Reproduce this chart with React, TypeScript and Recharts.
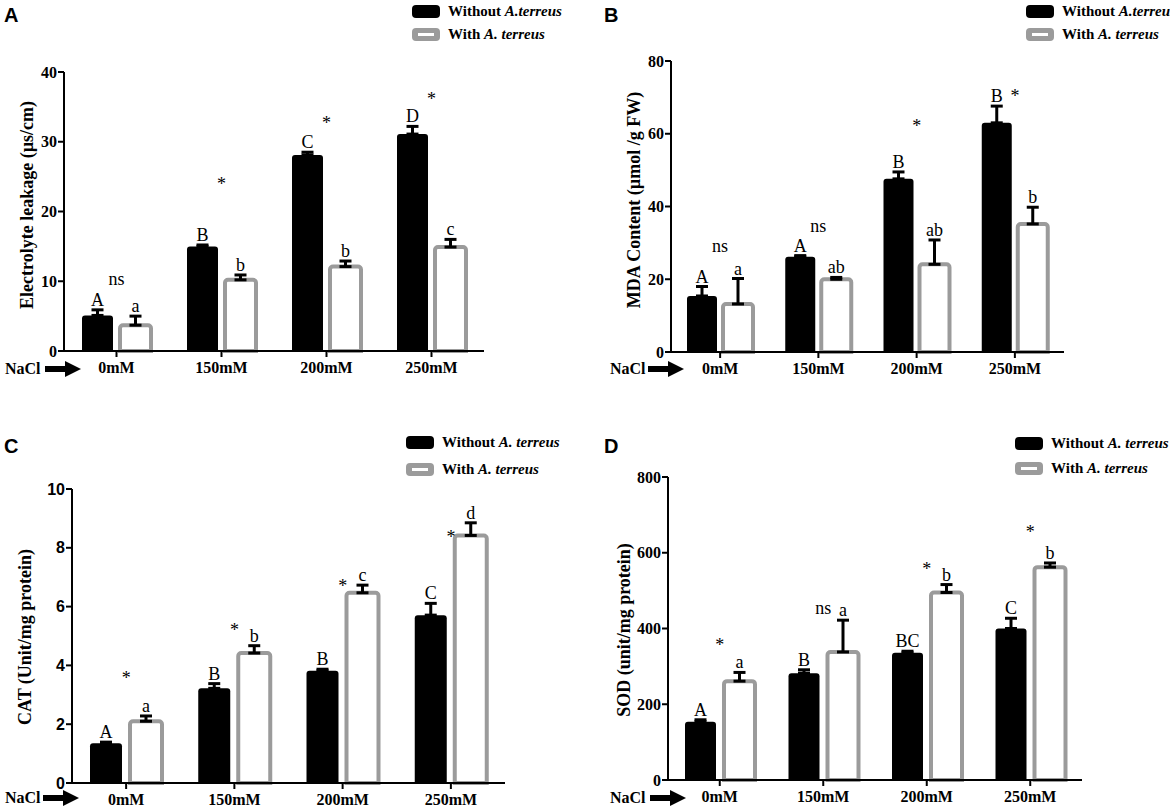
import { BarChart, Bar, XAxis, YAxis, ErrorBar, ReferenceDot } from 'recharts';

const serif = '"Liberation Serif", "Times New Roman", serif';
const sans = '"Liberation Sans", Arial, sans-serif';

const categories = ['0mM', '150mM', '200mM', '250mM'];

// A: electrolyte leakage
const elWithout = [5.1, 15.0, 28.1, 31.1];
const elWithoutErr = [0.8, 0.2, 0.4, 1.1];
const elWith = [3.7, 10.2, 12.1, 14.9];
const elWithErr = [1.3, 0.7, 0.8, 1.1];
const elLettersWithout = ['A', 'B', 'C', 'D'];
const elLettersWith = ['a', 'b', 'b', 'c'];
const elSig = ['ns', '*', '*', '*'];
const elSigY = [10.1, 24.4, 33.1, 36.6];
const elTicks = [0, 10, 20, 30, 40];

// B: MDA content
const mdaWithout = [15.4, 26.2, 47.6, 63.0];
const mdaWithoutErr = [2.6, 0.3, 1.9, 4.6];
const mdaWith = [13.2, 20.0, 24.1, 35.2];
const mdaWithErr = [7.0, 0.5, 6.7, 4.6];
const mdaLettersWithout = ['A', 'A', 'B', 'B'];
const mdaLettersWith = ['a', 'ab', 'ab', 'b'];
const mdaSig = ['ns', 'ns', '*', '*'];
const mdaSigY = [28.7, 34.2, 62.9, 71.2];
const mdaTicks = [0, 20, 40, 60, 80];

// C: CAT
const catWithout = [1.35, 3.22, 3.82, 5.71];
const catWithoutErr = [0.04, 0.16, 0.05, 0.4];
const catWith = [2.1, 4.42, 6.47, 8.42];
const catWithErr = [0.18, 0.25, 0.26, 0.43];
const catLettersWithout = ['A', 'B', 'B', 'C'];
const catLettersWith = ['a', 'b', 'c', 'd'];
const catSig = ['*', '*', '*', '*'];
const catSigY = [3.67, 5.3, 6.8, 8.47];
const catTicks = [0, 2, 4, 6, 8, 10];

// D: SOD
const sodWithout = [154, 282, 336, 400];
const sodWithoutErr = [5, 9, 4, 27];
const sodWith = [261, 338, 495, 562];
const sodWithErr = [23, 84, 21, 11];
const sodLettersWithout = ['A', 'B', 'BC', 'C'];
const sodLettersWith = ['a', 'a', 'b', 'b'];
const sodSig = ['*', 'ns', '*', '*'];
const sodSigY = [364, 449, 565, 662];
const sodTicks = [0, 200, 400, 600, 800];

const legendWithoutAB = ['Without ', 'A.terreus'];
const legendWithoutCD = ['Without ', 'A. terreus'];
const legendWith = ['With ', 'A. terreus'];

// letter above each bar, sitting on top of its error whisker
const letterLabel = (letters: string[], errs: number[], vals: number[]) => (props: any) => {
  const { x, y, width, height, value } = props;
  let i = props.index;
  if (i === undefined) i = vals.indexOf(value);
  if (i < 0 || i === undefined) return null;
  const px = height / vals[i];
  const top = y - errs[i] * px;
  return (
    <text x={x + width / 2} y={top - 4} textAnchor="middle" fontFamily={serif} fontSize={18} fill="#000">
      {letters[i]}
    </text>
  );
};

type PanelProps = {
  plot: { left: number; top: number; right: number; bottom: number };
  ticks: number[];
  tickFont: string;
  without: number[];
  withoutErr: number[];
  withA: number[];
  withErr: number[];
  lettersWithout: string[];
  lettersWith: string[];
  sig: string[];
  sigY: number[];
  barSize: number;
  barGap: number;
};

function Panel(p: PanelProps) {
  const { plot } = p;
  const YW = 60;
  const XH = 40;
  const width = plot.right - plot.left + YW + 20;
  const height = plot.bottom - plot.top + 30 + XH + 10;
  const rows = categories.map((c, i) => ({
    name: c,
    without: p.without[i],
    withA: p.withA[i],
    eWithout: [0, p.withoutErr[i]],
    eWith: [0, p.withErr[i]],
  }));
  const domain = [p.ticks[0], p.ticks[p.ticks.length - 1]];
  return (
    <div style={{ position: 'absolute', left: plot.left - YW, top: plot.top - 30 }}>
      <BarChart width={width} height={height} data={rows} barGap={p.barGap}
        margin={{ top: 30, right: 20, bottom: 10, left: 0 }}>
        <XAxis dataKey="name" height={XH} interval={0}
          axisLine={{ stroke: '#000', strokeWidth: 2 }}
          tickLine={{ stroke: '#000', strokeWidth: 2 }}
          tickSize={6} tickMargin={5}
          tick={{ fill: '#000', fontFamily: serif, fontWeight: 700, fontSize: 16 }} />
        <YAxis width={YW} domain={domain} ticks={p.ticks} interval={0}
          axisLine={{ stroke: '#000', strokeWidth: 2 }}
          tickLine={{ stroke: '#000', strokeWidth: 2 }}
          tickSize={6} tickMargin={1}
          tick={{ fill: '#000', fontFamily: p.tickFont, fontWeight: 700, fontSize: 16 }} />
        <Bar dataKey="without" fill="#000" barSize={p.barSize} radius={[3, 3, 0, 0]}
          isAnimationActive={false}
          label={letterLabel(p.lettersWithout, p.withoutErr, p.without)}>
          <ErrorBar dataKey="eWithout" direction="y" width={6} strokeWidth={3} stroke="#000" />
        </Bar>
        <Bar dataKey="withA" fill="#fff" stroke="#9b9b9b" strokeWidth={4} barSize={p.barSize}
          radius={[3, 3, 0, 0]} isAnimationActive={false}
          label={letterLabel(p.lettersWith, p.withErr, p.withA)}>
          <ErrorBar dataKey="eWith" direction="y" width={6} strokeWidth={3} stroke="#000" />
        </Bar>
        {categories.map((c, i) => (
          <ReferenceDot key={c} x={c} y={p.sigY[i]} r={0} ifOverflow="visible"
            shape={(s: any) => (
              <text x={s.cx} y={s.cy + (p.sig[i] === '*' ? 9 : 4)} textAnchor="middle"
                fontFamily={serif} fontSize={18} fill="#000">
                {p.sig[i]}
              </text>
            )} />
        ))}
      </BarChart>
    </div>
  );
}

function Legend({ x, y, gap, first }: { x: number; y: number; gap: number; first: string[] }) {
  const text = { position: 'absolute' as const, left: x + 36, fontFamily: serif, fontWeight: 700, fontSize: 15, lineHeight: '15px', whiteSpace: 'nowrap' as const };
  return (
    <>
      <div style={{ position: 'absolute', left: x, top: y, width: 28, height: 13, background: '#000', borderRadius: 4 }} />
      <div style={{ ...text, top: y - 1 }}>{first[0]}<i>{first[1]}</i></div>
      <div style={{ position: 'absolute', left: x, top: y + gap, width: 28, height: 13, background: '#9b9b9b', borderRadius: 4 }}>
        <div style={{ position: 'absolute', left: 6, top: 5, width: 16, height: 3, background: '#fff' }} />
      </div>
      <div style={{ ...text, top: y + gap - 1 }}>{legendWith[0]}<i>{legendWith[1]}</i></div>
    </>
  );
}

function VLabel({ cx, cy, text }: { cx: number; cy: number; text: string }) {
  return (
    <div style={{ position: 'absolute', left: cx, top: cy, transform: 'translate(-50%, -50%) rotate(-90deg)', whiteSpace: 'nowrap', fontFamily: serif, fontWeight: 700, fontSize: 18 }}>
      {text}
    </div>
  );
}

function NaCl({ x, cy, arrowX }: { x: number; cy: number; arrowX: number }) {
  return (
    <>
      <div style={{ position: 'absolute', left: x, top: cy - 9, fontFamily: serif, fontWeight: 700, fontSize: 16, lineHeight: '18px' }}>NaCl</div>
      <svg style={{ position: 'absolute', left: arrowX, top: cy - 8 }} width={36} height={16}>
        <rect x={0} y={5} width={22} height={6} fill="#000" />
        <polygon points="20,0 36,8 20,16" fill="#000" />
      </svg>
    </>
  );
}

function PanelLetter({ x, y, t }: { x: number; y: number; t: string }) {
  return <div style={{ position: 'absolute', left: x, top: y, fontFamily: sans, fontWeight: 700, fontSize: 20, lineHeight: '20px' }}>{t}</div>;
}

export default function App() {
  return (
    <div style={{ position: 'absolute', left: 0, top: 0, width: 1170, height: 809, background: '#fff', overflow: 'hidden' }}>
      <PanelLetter x={4} y={5} t="A" />
      <PanelLetter x={604} y={5} t="B" />
      <PanelLetter x={4} y={436} t="C" />
      <PanelLetter x={604} y={436} t="D" />

      <Legend x={412} y={5} gap={23} first={legendWithoutAB} />
      <Legend x={1026} y={5} gap={23} first={legendWithoutAB} />
      <Legend x={406} y={436} gap={27} first={legendWithoutCD} />
      <Legend x={1015} y={437} gap={25} first={legendWithoutCD} />

      <VLabel cx={27} cy={205} text="Electrolyte leakage (µs/cm)" />
      <VLabel cx={634} cy={200} text="MDA Content (µmol /g FW)" />
      <VLabel cx={25} cy={637} text="CAT (Unit/mg protein)" />
      <VLabel cx={624} cy={630} text="SOD (unit/mg protein)" />

      <NaCl x={5} cy={369} arrowX={45} />
      <NaCl x={610} cy={369} arrowX={648} />
      <NaCl x={5} cy={798} arrowX={43} />
      <NaCl x={610} cy={798} arrowX={650} />

      <Panel plot={{ left: 64, top: 72, right: 484, bottom: 351 }} ticks={elTicks} tickFont={serif}
        without={elWithout} withoutErr={elWithoutErr} withA={elWith} withErr={elWithErr}
        lettersWithout={elLettersWithout} lettersWith={elLettersWith} sig={elSig} sigY={elSigY}
        barSize={31} barGap={7} />
      <Panel plot={{ left: 671, top: 61, right: 1064, bottom: 352 }} ticks={mdaTicks} tickFont={serif}
        without={mdaWithout} withoutErr={mdaWithoutErr} withA={mdaWith} withErr={mdaWithErr}
        lettersWithout={mdaLettersWithout} lettersWith={mdaLettersWith} sig={mdaSig} sigY={mdaSigY}
        barSize={30} barGap={6} />
      <Panel plot={{ left: 72, top: 489, right: 505, bottom: 783 }} ticks={catTicks} tickFont={sans}
        without={catWithout} withoutErr={catWithoutErr} withA={catWith} withErr={catWithErr}
        lettersWithout={catLettersWithout} lettersWith={catLettersWith} sig={catSig} sigY={catSigY}
        barSize={32} barGap={8} />
      <Panel plot={{ left: 668, top: 477, right: 1082, bottom: 780 }} ticks={sodTicks} tickFont={serif}
        without={sodWithout} withoutErr={sodWithoutErr} withA={sodWith} withErr={sodWithErr}
        lettersWithout={sodLettersWithout} lettersWith={sodLettersWith} sig={sodSig} sigY={sodSigY}
        barSize={31} barGap={8} />
    </div>
  );
}
